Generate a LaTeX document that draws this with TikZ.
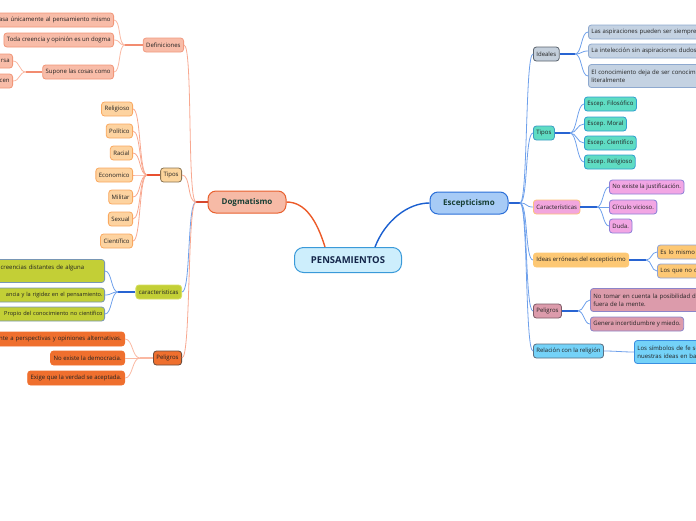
\documentclass[tikz,border=0pt]{standalone}
\usepackage{fontspec}
\setmainfont{Open Sans}
\usetikzlibrary{calc}
\definecolor{txt}{HTML}{222222}
\definecolor{ttl}{HTML}{173F35}
\definecolor{ctl}{HTML}{14264A}
\begin{document}
\begin{tikzpicture}[x=1pt,y=-1pt,
  box/.style={rounded corners=3pt, line width=0.8pt, inner xsep=3pt, inner ysep=0pt,
    minimum height=14pt, font=\fontsize{6}{7.6}\selectfont, text=txt},
  narrow/.style={font=\fontsize{5.6}{7.6}\selectfont, inner xsep=2pt},
  tall/.style={minimum height=23pt, inner ysep=2pt},
  lnk/.style={line width=0.8pt},
  stub/.style={line width=1.1pt},
  defp/.style={fill={rgb,255:red,248;green,188;blue,168}, draw={rgb,255:red,241;green,154;blue,128}},
  defl/.style={fill={rgb,255:red,248;green,188;blue,168}, draw={rgb,255:red,241;green,150;blue,120}},
  tipp/.style={fill={rgb,255:red,252;green,213;blue,156}, draw={rgb,255:red,138;green,116;blue,82}},
  tipl/.style={fill={rgb,255:red,253;green,211;blue,160}, draw={rgb,255:red,249;green,168;blue,96}},
  carp/.style={fill={rgb,255:red,195;green,207;blue,54}, draw={rgb,255:red,215;green,223;blue,96}},
  carl/.style={fill={rgb,255:red,195;green,207;blue,54}, draw={rgb,255:red,120;green,150;blue,180}},
  pelp/.style={fill={rgb,255:red,239;green,111;blue,46}, draw={rgb,255:red,107;green,75;blue,59}},
  pell/.style={fill={rgb,255:red,239;green,111;blue,46}, draw={rgb,255:red,239;green,111;blue,46}},
  idp/.style={fill={rgb,255:red,196;green,207;blue,219}, draw={rgb,255:red,90;green,99;blue,109}},
  idl/.style={fill={rgb,255:red,196;green,210;blue,226}, draw={rgb,255:red,142;green,169;blue,207}},
  tpp/.style={fill={rgb,255:red,95;green,220;blue,195}, draw={rgb,255:red,59;green,157;blue,196}},
  tpl/.style={fill={rgb,255:red,95;green,220;blue,195}, draw={rgb,255:red,47;green,159;blue,208}},
  crp/.style={fill={rgb,255:red,242;green,166;blue,221}, draw={rgb,255:red,252;green,194;blue,122}},
  crl/.style={fill={rgb,255:red,242;green,166;blue,228}, draw={rgb,255:red,140;green,127;blue,216}},
  iep/.style={fill={rgb,255:red,253;green,200;blue,116}, draw={rgb,255:red,253;green,200;blue,116}},
  iel/.style={fill={rgb,255:red,253;green,200;blue,116}, draw={rgb,255:red,143;green,163;blue,216}},
  pgp/.style={fill={rgb,255:red,220;green,155;blue,171}, draw={rgb,255:red,125;green,91;blue,103}},
  pgl/.style={fill={rgb,255:red,220;green,155;blue,171}, draw={rgb,255:red,140;green,132;blue,200}},
  rlp/.style={fill={rgb,255:red,116;green,210;blue,248}, draw={rgb,255:red,91;green,110;blue,128}},
  rll/.style={fill={rgb,255:red,116;green,210;blue,248}, draw={rgb,255:red,58;green,142;blue,224}},
  salm/.style={draw={rgb,255:red,248;green,168;blue,144}},
  salmlt/.style={draw={rgb,255:red,250;green,184;blue,162}},
  redd/.style={draw={rgb,255:red,214;green,72;blue,46}},
  bluel/.style={draw={rgb,255:red,110;green,160;blue,235}},
  blued/.style={draw={rgb,255:red,40;green,100;blue,210}}
]
\useasboundingbox (0,0) rectangle (696,520);
\clip (0,0) rectangle (696,520);

% ---------- main nodes ----------
\node[rounded corners=9pt, line width=1pt, fill={rgb,255:red,205;green,238;blue,252},
  draw={rgb,255:red,58;green,154;blue,217}, minimum width=107pt, minimum height=25pt,
  text=ctl, font=\fontsize{9.5}{11}\selectfont\bfseries] (c) at (348,260) {PENSAMIENTOS};
\node[rounded corners=8pt, line width=1pt, fill={rgb,255:red,246;green,186;blue,166},
  draw={rgb,255:red,232;green,96;blue,46}, minimum width=78pt, minimum height=22pt,
  text=ttl, font=\fontsize{8}{9.5}\selectfont\bfseries] (dog) at (247,202) {Dogmatismo};
\node[rounded corners=8pt, line width=1pt, fill={rgb,255:red,167;green,203;blue,246},
  draw={rgb,255:red,43;green,111;blue,216}, minimum width=78pt, minimum height=22pt,
  text=ttl, font=\fontsize{8}{9.5}\selectfont\bfseries] (esc) at (469,203) {Escepticismo};

\draw[line width=1.4pt, draw={rgb,255:red,236;green,90;blue,40}]
  (dog.east) .. controls +(19,0) and +(-8,-26) .. ($(c.north)+(-23,0)$);
\draw[line width=1.4pt, draw={rgb,255:red,26;green,95;blue,208}]
  ($(c.north)+(27,0)$) .. controls +(10,-26) and +(-22,0) .. (esc.west);

% ---------- Dogmatismo branch ----------
\coordinate (hd) at (196,202);
\node[box, defp, anchor=east] (def) at (184,45) {Definiciones};
\node[box, tipp, anchor=east] (tipd) at (182,175) {Tipos};
\node[box, carp, anchor=east] (card) at (182,292) {caracteristicas};
\node[box, pelp, anchor=east] (peld) at (182,358) {Peligros};
\draw[stub, redd] (dog.west) -- (hd);
\draw[lnk, salm] (hd) .. controls +(-9,0) and +(9,0) .. (def.east);
\draw[lnk, salm] (hd) .. controls +(-9,0) and +(9,0) .. (tipd.east);
\draw[lnk, bluel] (hd) .. controls +(-9,0) and +(9,0) .. (card.east);
\draw[lnk, salm] (hd) .. controls +(-9,0) and +(9,0) .. (peld.east);

% Definiciones
\coordinate (hdef) at (125,45);
\node[box, defl, anchor=east, text width=150pt, align=right] (d1) at (114,20) {asa únicamente al pensamiento mismo};
\node[box, defl, anchor=east] (d2) at (114,40) {Toda creencia y opinión es un dogma};
\node[box, defl, anchor=east] (d3) at (114,72) {Supone las cosas como};
\draw[stub, draw={rgb,255:red,242;green,140;blue,112}] (def.west) -- (hdef);
\foreach \n in {d1,d2,d3} \draw[lnk, salmlt] (hdef) .. controls +(-7,0) and +(7,0) .. (\n.east);
\coordinate (hd3) at (26,72);
\node[box, defl, anchor=east, text width=40pt, align=right] (d3a) at (13,61) {rsa};
\node[box, defl, anchor=east, text width=40pt, align=right] (d3b) at (13,81) {cen};
\draw[stub, draw={rgb,255:red,242;green,140;blue,112}] (d3.west) -- (hd3);
\foreach \n in {d3a,d3b} \draw[lnk, salmlt] (hd3) .. controls +(-7,0) and +(7,0) .. (\n.east);

% Tipos
\coordinate (htip) at (147,175);
\node[box, tipl, anchor=east] (t1) at (133,109) {Religioso};
\node[box, tipl, anchor=east] (t2) at (133,131) {Político};
\node[box, tipl, anchor=east] (t3) at (133,153) {Racial};
\node[box, tipl, anchor=east] (t4) at (133,175) {Economico};
\node[box, tipl, anchor=east] (t5) at (133,197) {Militar};
\node[box, tipl, anchor=east] (t6) at (133,219) {Sexual};
\node[box, tipl, anchor=east] (t7) at (133,241) {Científico};
\draw[stub, draw={rgb,255:red,232;green,80;blue,48}] (tipd.west) -- (htip);
\foreach \n in {t1,t2,t3,t4,t5,t6,t7} \draw[lnk, salm] (htip) .. controls +(-8,0) and +(8,0) .. (\n.east);

% caracteristicas
\coordinate (hcar) at (118,292);
\node[box, carl, tall, anchor=east, text width=120pt, align=left] (c1) at (105,271) {\hspace*{19pt}creencias distantes de alguna\\\mbox{}};
\node[box, carl, narrow, anchor=east, text width=140pt, align=right] (c2) at (105,295) {ancia y la rigidez en el pensamiento.};
\node[box, carl, narrow, anchor=east, text width=140pt, align=right] (c3) at (105,314) {Propio del conocimiento no científico};
\draw[stub, blued] (card.west) -- (hcar);
\foreach \n in {c1,c2,c3} \draw[lnk, bluel] (hcar) .. controls +(-7,0) and +(7,0) .. (\n.east);

% Peligros
\coordinate (hpel) at (140,358);
\node[box, pell, anchor=east, text width=160pt, align=right] (p1) at (125,339) {nte a perspectivas y opiniones alternativas.};
\node[box, pell, anchor=east] (p2) at (125,358) {No existe la democracia.};
\node[box, pell, anchor=east] (p3) at (125,378) {Exige que la verdad se aceptada.};
\draw[stub, salmlt] (peld.west) -- (hpel);
\foreach \n in {p1,p2,p3} \draw[lnk, salmlt] (hpel) .. controls +(-8,0) and +(8,0) .. (\n.east);

% ---------- Escepticismo branch ----------
\coordinate (he) at (520,203);
\node[box, idp, anchor=west] (ide) at (533,54) {Ideales};
\node[box, tpp, anchor=west] (tpe) at (533,133) {Tipos};
\node[box, crp, anchor=west] (cre) at (533,207) {Características};
\node[box, iep, anchor=west] (iee) at (533,260) {Ideas erróneas del escepticismo};
\node[box, pgp, anchor=west] (pge) at (533,311) {Peligros};
\node[box, rlp, anchor=west] (rle) at (533,351) {Relación con la religión};
\draw[stub, blued] (esc.east) -- (he);
\foreach \n in {ide,tpe,cre,iee,pge,rle} \draw[lnk, bluel] (he) .. controls +(8,0) and +(-8,0) .. (\n.west);

% Ideales
\coordinate (hide) at (575,54);
\node[box, idl, anchor=west, text width=140pt, align=left] (i1) at (588,32) {Las aspiraciones pueden ser siempre};
\node[box, idl, anchor=west, text width=140pt, align=left] (i2) at (588,51) {La intelección sin aspiraciones dudosa};
\node[box, idl, tall, anchor=west, text width=140pt, align=left] (i3) at (588,76) {El conocimiento deja de ser conocimi\\literalmente};
\draw[stub, blued] (ide.east) -- (hide);
\foreach \n in {i1,i2,i3} \draw[lnk, bluel] (hide) .. controls +(7,0) and +(-7,0) .. (\n.west);

% Tipos (right)
\coordinate (htpe) at (570,133);
\node[box, tpl, anchor=west] (e1) at (584,104) {Escep. Filosófico};
\node[box, tpl, anchor=west] (e2) at (584,124) {Escep. Moral};
\node[box, tpl, anchor=west] (e3) at (584,143) {Escep. Científico};
\node[box, tpl, anchor=west] (e4) at (584,162) {Escep. Religioso};
\draw[stub, blued] (tpe.east) -- (htpe);
\foreach \n in {e1,e2,e3,e4} \draw[lnk, bluel] (htpe) .. controls +(7,0) and +(-7,0) .. (\n.west);

% Características (right)
\coordinate (hcre) at (597,207);
\node[box, crl, anchor=west] (k1) at (609,187) {No existe la justificación.};
\node[box, crl, anchor=west] (k2) at (609,207) {Círculo vicioso.};
\node[box, crl, anchor=west] (k3) at (609,226) {Duda.};
\draw[stub, blued] (cre.east) -- (hcre);
\foreach \n in {k1,k2,k3} \draw[lnk, bluel] (hcre) .. controls +(6,0) and +(-6,0) .. (\n.west);

% Ideas erróneas
\coordinate (hiee) at (646,260);
\node[box, iel, anchor=west, text width=60pt, align=left] (r1) at (657,252) {Es lo mismo};
\node[box, iel, anchor=west, text width=60pt, align=left] (r2) at (657,271) {Los que no c};
\draw[stub, blued] (iee.east) -- (hiee);
\foreach \n in {r1,r2} \draw[lnk, bluel] (hiee) .. controls +(6,0) and +(-6,0) .. (\n.west);

% Peligros (right)
\coordinate (hpge) at (578,311);
\node[box, pgl, tall, anchor=west, text width=130pt, align=left] (g1) at (590,300) {No tomar en cuenta la posibilidad de\\fuera de la mente.};
\node[box, pgl, anchor=west] (g2) at (590,324) {Genera incertidumbre y miedo.};
\draw[stub, blued] (pge.east) -- (hpge);
\foreach \n in {g1,g2} \draw[lnk, bluel] (hpge) .. controls +(6,0) and +(-6,0) .. (\n.west);

% Relación
\node[box, rll, tall, anchor=west, text width=80pt, align=left] (l1) at (634,352) {Los símbolos de fe so\\nuestras ideas en ba};
\draw[lnk, bluel] (rle.east) .. controls +(12,0) and +(-12,0) .. (l1.west);
\end{tikzpicture}
\end{document}
